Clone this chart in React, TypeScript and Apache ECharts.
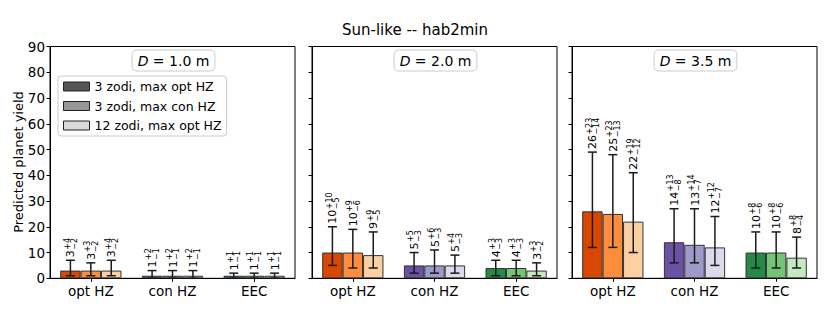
import React, { useEffect, useRef } from "react";
import * as echarts from "echarts";

const FONT = "'DejaVu Sans', sans-serif";

const categories = ["opt HZ", "con HZ", "EEC"];
const diameters = ["1.0", "2.0", "3.5"];
const seriesNames = ["3 zodi, max opt HZ", "3 zodi, max con HZ", "12 zodi, max opt HZ"];
const legendColors = ["#555555", "#969696", "#d9d9d9"];
// palette[category][series]
const palette = [
  ["#d94801", "#fd8d3c", "#fdd0a2"],
  ["#6a51a3", "#9e9ac8", "#dadaeb"],
  ["#238b45", "#74c476", "#c7e9c0"],
];

// [series][category]
const yieldD10 = [[3, 1, 1], [3, 1, 1], [3, 1, 1]];
const plusD10 = [[4, 2, 1], [3, 2, 1], [4, 2, 1]];
const minusD10 = [[2, 1, 1], [2, 1, 1], [2, 1, 1]];

const yieldD20 = [[10, 5, 4], [10, 5, 4], [9, 5, 3]];
const plusD20 = [[10, 5, 3], [9, 6, 3], [9, 4, 3]];
const minusD20 = [[5, 3, 3], [6, 3, 3], [5, 3, 2]];

const yieldD35 = [[26, 14, 10], [25, 13, 10], [22, 12, 8]];
const plusD35 = [[23, 13, 8], [23, 14, 8], [19, 12, 8]];
const minusD35 = [[14, 8, 6], [13, 7, 6], [12, 7, 4]];

const panels = [
  { y: yieldD10, p: plusD10, m: minusD10 },
  { y: yieldD20, p: plusD20, m: minusD20 },
  { y: yieldD35, p: plusD35, m: minusD35 },
];

const gridLefts = [50, 312, 572];
const gridWidth = 245;
const gridTop = 46.5;
const gridHeight = 231.8;

let ctx: CanvasRenderingContext2D | null = null;
function measure(text: string, size: number) {
  if (!ctx) ctx = document.createElement("canvas").getContext("2d");
  if (!ctx) return text.length * size * 0.636;
  ctx.font = `${size}px 'DejaVu Sans'`;
  return ctx.measureText(text).width;
}

export default function App() {
  const ref = useRef<HTMLDivElement>(null);
  useEffect(() => {
    if (!ref.current) return;
    const chart = echarts.init(ref.current, undefined, { renderer: "svg" });

    const grids = gridLefts.map((l) => ({
      left: l,
      top: gridTop,
      width: gridWidth,
      height: gridHeight,
      show: true,
      borderColor: "#000",
      borderWidth: 1,
      backgroundColor: "#fff",
      containLabel: false,
    }));

    const xAxes = gridLefts.map((_, g) => ({
      type: "category",
      gridIndex: g,
      data: categories,
      axisLine: { show: true, lineStyle: { color: "#000", width: 1 } },
      axisTick: { show: true, alignWithLabel: true, length: 3.5, lineStyle: { color: "#000" } },
      axisLabel: { color: "#000", fontFamily: FONT, fontSize: 13.5, margin: 6 },
    }));

    const yAxes = gridLefts.map((_, g) => ({
      type: "value",
      gridIndex: g,
      min: 0,
      max: 90,
      interval: 10,
      splitLine: { show: false },
      axisLine: { show: true, lineStyle: { color: "#000", width: 1 } },
      axisTick: { show: true, length: 3.5, lineStyle: { color: "#000" } },
      axisLabel: { show: g === 0, color: "#000", fontFamily: FONT, fontSize: 13.5, margin: 5 },
    }));

    const series: any[] = [];
    panels.forEach((pan, g) => {
      seriesNames.forEach((name, j) => {
        series.push({
          type: "bar",
          name,
          xAxisIndex: g,
          yAxisIndex: g,
          barWidth: "25%",
          barGap: "0%",
          itemStyle: { color: legendColors[j], borderColor: "#333", borderWidth: 1 },
          data: categories.map((_, i) => ({
            value: pan.y[j][i],
            itemStyle: { color: palette[i][j], borderColor: "#333", borderWidth: 1 },
          })),
        });
      });
      const errData: number[][] = [];
      categories.forEach((_, i) => {
        seriesNames.forEach((__, j) => {
          errData.push([i, j, pan.y[j][i], pan.p[j][i], pan.m[j][i]]);
        });
      });
      series.push({
        type: "custom",
        xAxisIndex: g,
        yAxisIndex: g,
        clip: false,
        z: 10,
        data: errData,
        renderItem: (params: any, api: any) => {
          const i = api.value(0);
          const j = api.value(1);
          const v = api.value(2);
          const p = api.value(3);
          const m = api.value(4);
          const band = api.size([1, 0])[0];
          const base = api.coord([i, v]);
          const cx = base[0] + (j - 1) * band * 0.25;
          const yT = api.coord([i, v + p])[1];
          const yB = api.coord([i, Math.max(0, v - m)])[1];
          const ls = { stroke: "#1a1a1a", lineWidth: 1.5 };
          const main = String(v);
          const w = measure(main, 11);
          return {
            type: "group",
            children: [
              { type: "line", shape: { x1: cx, y1: yB, x2: cx, y2: yT }, style: ls },
              { type: "line", shape: { x1: cx - 4.5, y1: yT, x2: cx + 4.5, y2: yT }, style: ls },
              { type: "line", shape: { x1: cx - 4.5, y1: yB, x2: cx + 4.5, y2: yB }, style: ls },
              {
                type: "group",
                x: cx,
                y: yT - 3,
                rotation: Math.PI / 2,
                children: [
                  {
                    type: "text",
                    x: 0,
                    y: 0.5,
                    style: { text: main, fontFamily: FONT, fontSize: 11, fill: "#000", align: "left", verticalAlign: "middle" },
                  },
                  {
                    type: "text",
                    x: w + 0.5,
                    y: -3.2,
                    style: { text: "+" + p, fontFamily: FONT, fontSize: 8, fill: "#000", align: "left", verticalAlign: "middle" },
                  },
                  {
                    type: "text",
                    x: w + 0.5,
                    y: 4.2,
                    style: { text: "\u2212" + m, fontFamily: FONT, fontSize: 8, fill: "#000", align: "left", verticalAlign: "middle" },
                  },
                ],
              },
            ],
          };
        },
      });
    });

    const graphics: any[] = [
      {
        type: "text",
        x: 415,
        y: 30,
        style: { text: "Sun-like -- hab2min", fontFamily: FONT, fontSize: 15, fill: "#000", align: "center", verticalAlign: "middle" },
      },
      {
        type: "text",
        x: 18,
        y: 162,
        rotation: Math.PI / 2,
        style: { text: "Predicted planet yield", fontFamily: FONT, fontSize: 13, fill: "#000", align: "center", verticalAlign: "middle" },
      },
    ];
    diameters.forEach((d, g) => {
      graphics.push({
        type: "text",
        x: gridLefts[g] + gridWidth / 2 + 1,
        y: 60.5,
        z: 20,
        style: {
          text: `{i|D} = ${d} m`,
          rich: { i: { fontStyle: "italic", fontFamily: FONT, fontSize: 14, fill: "#000" } },
          fontFamily: FONT,
          fontSize: 14,
          fill: "#000",
          align: "center",
          verticalAlign: "middle",
          backgroundColor: "#fff",
          borderColor: "#cccccc",
          borderWidth: 1,
          borderRadius: 4,
          padding: [3, 5, 3, 5],
        },
      });
    });

    chart.setOption({
      animation: false,
      grid: grids,
      xAxis: xAxes,
      yAxis: yAxes,
      legend: {
        show: true,
        orient: "vertical",
        left: 58,
        top: 76,
        data: seriesNames.map((n, j) => ({
          name: n,
          itemStyle: { color: legendColors[j], borderColor: "#222", borderWidth: 1 },
        })),
        itemWidth: 26,
        itemHeight: 9,
        itemGap: 6.5,
        itemTextGap: 9,
        padding: [4, 5, 4, 5],
        backgroundColor: "#fff",
        borderColor: "#cccccc",
        borderWidth: 1,
        borderRadius: 3,
        selectedMode: false,
        icon: "rect",
        textStyle: { fontFamily: FONT, fontSize: 12.5, color: "#000", lineHeight: 13 },
      },
      graphic: graphics,
      series,
    });
    return () => chart.dispose();
  }, []);
  return <div ref={ref} style={{ position: "fixed", left: 0, top: 0, width: 830, height: 311, background: "#fff" }} />;
}
